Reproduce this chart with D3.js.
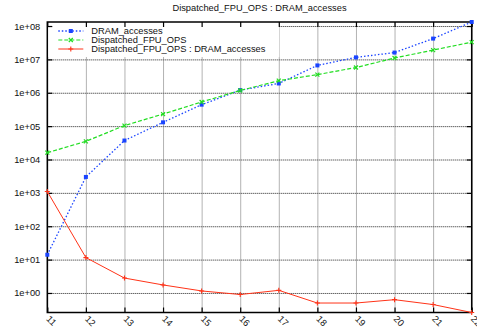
<!DOCTYPE html>
<html>
<head>
<meta charset="utf-8">
<script src="https://cdn.jsdelivr.net/npm/d3@7"></script>
<style>
  html, body { margin: 0; padding: 0; background: #fff; }
  svg { display: block; font-family: "Liberation Sans", Arial, Helvetica, sans-serif; }
</style>
</head>
<body>
<svg id="chart" width="477" height="332"></svg>
<script>
;(function(window, document, d3) {

    'use strict';

    // ---- data ----
    var sizes = [11, 12, 13, 14, 15, 16, 17, 18, 19, 20, 21, 22];
    var dram_accesses = [14, 3000, 37000, 1.3e5, 4.4e5, 1.2e6, 1.9e6, 6.6e6, 1.15e7, 1.6e7, 4.2e7, 1.32e8];
    var fpu_ops = [1.6e4, 3.5e4, 1.04e5, 2.3e5, 5.3e5, 1.17e6, 2.3e6, 3.5e6, 5.7e6, 1.1e7, 1.9e7, 3.3e7];
    var fpu_per_dram = [1100, 11.5, 2.8, 1.74, 1.15, 0.9, 1.2, 0.5, 0.5, 0.63, 0.45, 0.26];
    var y_tick_values = [1, 10, 100, 1e3, 1e4, 1e5, 1e6, 1e7, 1e8];
    var series_names = ['DRAM_accesses', 'Dispatched_FPU_OPS', 'Dispatched_FPU_OPS : DRAM_accesses'];
    var chart_title = 'Dispatched_FPU_OPS : DRAM_accesses';

    var left = 47.3, right = 471.7, top = 22, bottom = 312.5;
    var W = right - left, H = bottom - top;

    var svg = d3.select('#chart');
    var g = svg.append('g').attr('transform', 'translate(' + left + ',' + top + ')');

    var all = dram_accesses.concat(fpu_ops, fpu_per_dram);
    var x = d3.scaleLinear().domain(d3.extent(sizes)).range([0, W]);
    var y = d3.scaleLog().domain(d3.extent(all)).range([H, 0]);

    var fmt = function(v) {
        var e = Math.round(Math.log10(v));
        return '1e' + (e < 0 ? '-' : '+') + String(Math.abs(e)).padStart(2, '0');
    };

    /** ================ GRID ================ */
    g.append('g')
        .attr('class', 'grid-y')
        .call(d3.axisLeft(y).tickValues(y_tick_values).tickSize(-W).tickFormat(''))
        .call(function(s) { s.select('.domain').remove(); })
        .selectAll('line')
        .attr('stroke', '#222')
        .attr('stroke-dasharray', '1,1');

    g.append('g')
        .attr('class', 'grid-x')
        .attr('transform', 'translate(0,' + H + ')')
        .call(d3.axisBottom(x).tickValues(sizes).tickSize(-H).tickFormat(''))
        .call(function(s) { s.select('.domain').remove(); })
        .selectAll('line')
        .attr('stroke', '#666')
        .attr('stroke-dasharray', '1,1');

    // opaque key box
    g.append('rect')
        .attr('x', 0).attr('y', 0)
        .attr('width', 232).attr('height', 35)
        .attr('fill', '#fff');

    /** ================ AXES ================ */
    var yAxis = g.append('g')
        .call(d3.axisLeft(y).tickValues(y_tick_values).tickSize(-5).tickPadding(7).tickFormat(fmt));
    g.append('g')
        .attr('transform', 'translate(' + W + ',0)')
        .call(d3.axisRight(y).tickValues(y_tick_values).tickSize(-5).tickFormat(''));
    var xAxis = g.append('g')
        .attr('transform', 'translate(0,' + H + ')')
        .call(d3.axisBottom(x).tickValues(sizes).tickSize(-5).tickFormat(d3.format('d')));
    g.append('g')
        .call(d3.axisTop(x).tickValues(sizes).tickSize(-5).tickFormat(''));

    g.selectAll('.domain').remove();
    g.selectAll('.tick line').filter(function() { return !this.parentNode.parentNode.classList.contains('grid-x') && !this.parentNode.parentNode.classList.contains('grid-y'); })
        .attr('stroke', '#000').attr('stroke-width', 1.2);

    yAxis.selectAll('text')
        .attr('font-size', '9.3px')
        .attr('fill', '#111');

    xAxis.selectAll('text')
        .attr('font-size', '9.3px')
        .attr('fill', '#111')
        .attr('text-anchor', 'start')
        .attr('dy', null)
        .attr('y', null)
        .attr('transform', 'translate(-2,7) rotate(45)');

    g.append('rect')
        .attr('x', 0).attr('y', 0)
        .attr('width', W).attr('height', H)
        .attr('fill', 'none')
        .attr('stroke', '#000')
        .attr('stroke-width', 1.5);

    /** ================ SERIES ================ */
    var line = function(vals) {
        return d3.line()
            .x(function(d, i) { return x(sizes[i]); })
            .y(function(d) { return y(d); })(vals);
    };

    var series = [
        { name: series_names[0], vals: dram_accesses, color: '#1a44ff', dash: '1.5,2', width: 1.3, mark: 'square' },
        { name: series_names[1], vals: fpu_ops, color: '#22dd22', dash: '4,2', width: 1.2, mark: 'x' },
        { name: series_names[2], vals: fpu_per_dram, color: '#ff3318', dash: null, width: 1, mark: 'plus' }
    ];

    var marker = function(sel, kind, color) {
        if (kind === 'square') {
            sel.append('rect')
                .attr('x', -2).attr('y', -2)
                .attr('width', 4).attr('height', 4)
                .attr('fill', color);
        } else if (kind === 'x') {
            sel.append('path')
                .attr('d', 'M-2,-2L2,2M-2,2L2,-2')
                .attr('stroke', color).attr('stroke-width', 1.2);
        } else {
            sel.append('path')
                .attr('d', 'M-2.5,0L2.5,0M0,-2.5L0,2.5')
                .attr('stroke', color).attr('stroke-width', 1.1);
        }
    };

    series.forEach(function(s) {
        g.append('path')
            .attr('d', line(s.vals))
            .attr('fill', 'none')
            .attr('stroke', s.color)
            .attr('stroke-width', s.width)
            .attr('stroke-dasharray', s.dash);

        g.selectAll(null)
            .data(s.vals)
            .enter()
            .append('g')
            .attr('transform', function(d, i) { return 'translate(' + x(sizes[i]) + ',' + y(d) + ')'; })
            .each(function() { marker(d3.select(this), s.mark, s.color); });
    });

    /** ================ KEY ================ */
    var key = g.append('g').attr('transform', 'translate(0,0)');
    series.forEach(function(s, i) {
        var ky = 9 + i * 9;
        key.append('line')
            .attr('x1', 11).attr('x2', 36)
            .attr('y1', ky).attr('y2', ky)
            .attr('stroke', s.color)
            .attr('stroke-width', s.width)
            .attr('stroke-dasharray', s.dash);
        marker(key.append('g').attr('transform', 'translate(23.5,' + ky + ')'), s.mark, s.color);
        key.append('text')
            .attr('x', 44).attr('y', ky)
            .attr('dy', '0.35em')
            .attr('font-size', '9.3px')
            .attr('fill', '#111')
            .text(s.name);
    });

    /** ================ TITLE ================ */
    svg.append('text')
        .attr('x', (left + right) / 2)
        .attr('y', 8)
        .attr('dy', '0.35em')
        .attr('text-anchor', 'middle')
        .attr('font-size', '9.3px')
        .attr('fill', '#111')
        .text(chart_title);

}(window, document, window.d3));
</script>
</body>
</html>
